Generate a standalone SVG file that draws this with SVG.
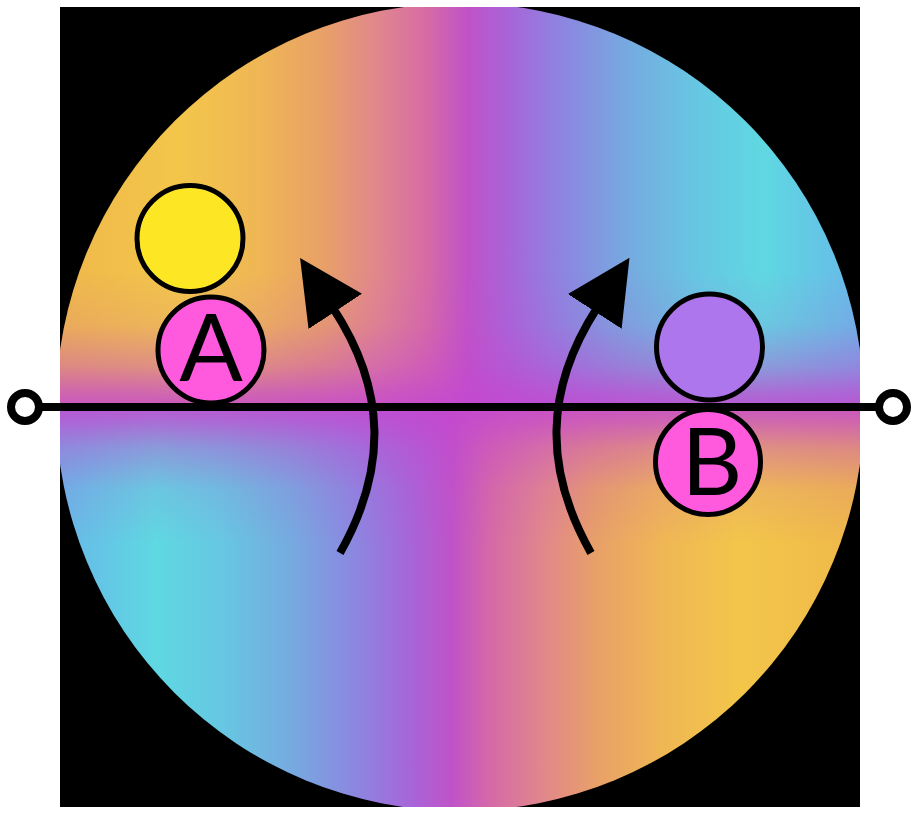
<svg xmlns="http://www.w3.org/2000/svg" width="913" height="815" viewBox="0 0 913 815">
  <style>
    .ball { stroke: #000; stroke-width: 5; }
    .lbl { font-family: Lato, "Liberation Sans", sans-serif; font-size: 94px; fill: #000; text-anchor: middle; }
    .conn { fill: none; stroke: #000; stroke-width: 8; }
    .end { fill: #fff; stroke: #000; stroke-width: 8; }
  </style>
  <defs>
    <clipPath id="disc"><circle cx="460" cy="407" r="404"/></clipPath>
    <linearGradient id="topG" gradientUnits="userSpaceOnUse" x1="60" y1="0" x2="860" y2="0">
      <stop offset="0" stop-color="#efb84a"/>
      <stop offset="0.15" stop-color="#f3c64a"/>
      <stop offset="0.25" stop-color="#efb655"/>
      <stop offset="0.33" stop-color="#e8a068"/>
      <stop offset="0.40" stop-color="#e0868e"/>
      <stop offset="0.46" stop-color="#d66aa6"/>
      <stop offset="0.51" stop-color="#c052c8"/>
      <stop offset="0.56" stop-color="#a864d8"/>
      <stop offset="0.63" stop-color="#8c86e0"/>
      <stop offset="0.71" stop-color="#76aae0"/>
      <stop offset="0.80" stop-color="#66c8e2"/>
      <stop offset="0.88" stop-color="#5fd8e2"/>
      <stop offset="1" stop-color="#68b8e8"/>
    </linearGradient>
    <linearGradient id="botG" gradientUnits="userSpaceOnUse" x1="860" y1="0" x2="60" y2="0">
      <stop offset="0" stop-color="#efb84a"/>
      <stop offset="0.15" stop-color="#f3c64a"/>
      <stop offset="0.25" stop-color="#efb655"/>
      <stop offset="0.33" stop-color="#e8a068"/>
      <stop offset="0.40" stop-color="#e0868e"/>
      <stop offset="0.46" stop-color="#d66aa6"/>
      <stop offset="0.51" stop-color="#c052c8"/>
      <stop offset="0.56" stop-color="#a864d8"/>
      <stop offset="0.63" stop-color="#8c86e0"/>
      <stop offset="0.71" stop-color="#76aae0"/>
      <stop offset="0.80" stop-color="#66c8e2"/>
      <stop offset="0.88" stop-color="#5fd8e2"/>
      <stop offset="1" stop-color="#68b8e8"/>
    </linearGradient>
    <linearGradient id="bandG" gradientUnits="userSpaceOnUse" x1="0" y1="270" x2="0" y2="544">
      <stop offset="0" stop-color="#c448d0" stop-opacity="0"/>
      <stop offset="0.2" stop-color="#c448d0" stop-opacity="0.12"/>
      <stop offset="0.35" stop-color="#c448d0" stop-opacity="0.42"/>
      <stop offset="0.45" stop-color="#c448d0" stop-opacity="0.75"/>
      <stop offset="0.5" stop-color="#c448d0" stop-opacity="0.88"/>
      <stop offset="0.55" stop-color="#c448d0" stop-opacity="0.75"/>
      <stop offset="0.65" stop-color="#c448d0" stop-opacity="0.42"/>
      <stop offset="0.8" stop-color="#c448d0" stop-opacity="0.12"/>
      <stop offset="1" stop-color="#c448d0" stop-opacity="0"/>
    </linearGradient>
    <marker id="head" markerUnits="userSpaceOnUse" markerWidth="64" markerHeight="64" viewBox="0 0 62 62" refX="4" refY="31" orient="auto">
      <path d="M0,0 L62,31 L0,62 z" fill="#000"/>
    </marker>
  </defs>

  <rect x="60" y="7" width="800" height="800" fill="#000"/>
  <g id="disc-fill" clip-path="url(#disc)">
    <rect x="60" y="7" width="800" height="400" fill="url(#topG)"/>
    <rect x="60" y="407" width="800" height="400" fill="url(#botG)"/>
    <rect x="60" y="270" width="800" height="274" fill="url(#bandG)"/>
  </g>

  <g id="connectors">
    <line class="conn" x1="39" y1="407" x2="879" y2="407"/>
    <circle class="end" cx="25" cy="407" r="14"/>
    <circle class="end" cx="893" cy="407" r="14"/>
    <path class="conn" d="M340,553 C387,470 387,390 333,308" marker-end="url(#head)"/>
    <path class="conn" d="M591,553 C544,470 544,390 597,308" marker-end="url(#head)"/>
  </g>

  <g id="yellow-ball">
    <circle class="ball" cx="190" cy="238.5" r="53" fill="#fde725"/>
  </g>
  <g id="node-A">
    <circle class="ball" cx="211" cy="350" r="53" fill="#ff5ade"/>
    <text class="lbl" x="211" y="381">A</text>
  </g>
  <g id="purple-ball">
    <circle class="ball" cx="709.5" cy="347" r="53" fill="#ad76ec"/>
  </g>
  <g id="node-B">
    <circle class="ball" cx="708" cy="462" r="52.5" fill="#ff5ade"/>
    <text class="lbl" x="712" y="495">B</text>
  </g>
</svg>
